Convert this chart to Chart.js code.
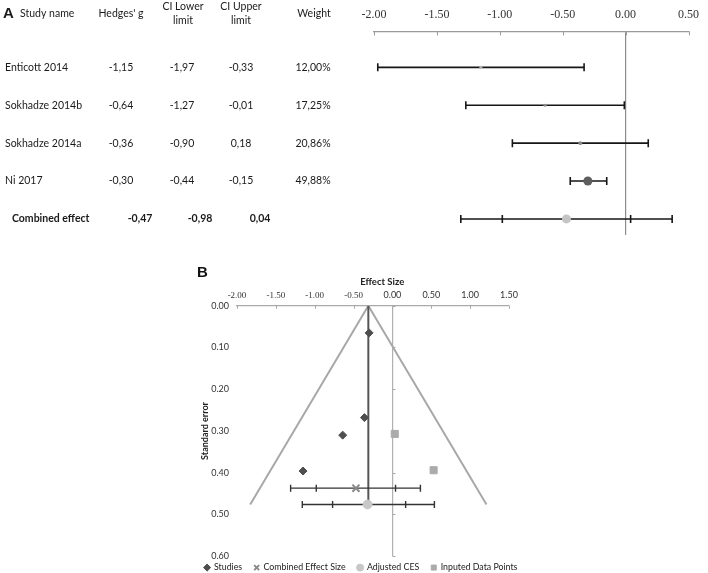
<!DOCTYPE html>
<html>
<head>
<meta charset="utf-8">
<title>Forest and funnel plot</title>
<script src="https://cdn.jsdelivr.net/npm/chart.js@4.4.1/dist/chart.umd.min.js"></script>
<style>
  body { margin: 0; background: #fff; }
  .wrap { position: relative; width: 708px; height: 573px; overflow: hidden; }
  canvas { position: absolute; left: 0; }
  #forestChart { top: 0; }
  #funnelChart { top: 240px; }
</style>
</head>
<body>
<div class="wrap">
  <canvas id="forestChart" width="708" height="240"></canvas>
  <canvas id="funnelChart" width="708" height="347"></canvas>
</div>
<script>
// =========================
// PANEL A - FOREST PLOT DATA
// =========================
const studyNames = ["Enticott 2014", "Sokhadze 2014b", "Sokhadze 2014a", "Ni 2017"];
const hedgesG = [-1.15, -0.64, -0.36, -0.30];
const ciLower = [-1.97, -1.27, -0.90, -0.44];
const ciUpper = [-0.33, -0.01, 0.18, -0.15];
const weights = [12.00, 17.25, 20.86, 49.88];
const combinedEffect = [-0.47, -0.98, 0.04];       // g, lower, upper
const combinedCaps = [-1.31, -0.98, 0.04, 0.37];   // interval ends drawn on the plot
const forestTicks = [-2, -1.5, -1, -0.5, 0, 0.5];

// =========================
// PANEL B - FUNNEL PLOT DATA
// =========================
const studySE = [0.396, 0.310, 0.268, 0.065];
const imputedG = [0.03, 0.53];
const imputedSE = [0.307, 0.394];
const combinedSE = [0.437];
const combinedBars = [-1.31, -0.98, 0.04, 0.36];
const adjustedG = [-0.32];
const adjustedSE = [0.476];
const adjustedBars = [-1.16, -0.77, 0.17, 0.54];
const funnelG = [-1.83, -0.31, 1.21];
const funnelSE = [0.476, 0, 0.476];
const funnelTicksX = [-2, -1.5, -1, -0.5, 0, 0.5, 1, 1.5];
const funnelTicksY = [0, 0.1, 0.2, 0.3, 0.4, 0.5, 0.6];
const legendNames = ["Studies", "Combined Effect Size", "Adjusted CES", "Inputed Data Points"];

const fmt = v => v.toFixed(2).replace('.', ',');

// small tick marks that point into the plot
const tickMarks = {
  id: 'tickMarks',
  beforeDatasetsDraw(chart, args, opts) {
    const { ctx, chartArea, scales } = chart;
    ctx.save();
    ctx.strokeStyle = opts.color;
    ctx.lineWidth = 1;
    scales.x.ticks.forEach(t => {
      const px = Math.round(scales.x.getPixelForValue(t.value)) + 0.5;
      ctx.beginPath();
      ctx.moveTo(px, chartArea.top);
      ctx.lineTo(px, chartArea.top + opts.len);
      ctx.stroke();
    });
    if (opts.onZero) {
      const x0 = Math.round(scales.x.getPixelForValue(0)) + 0.5;
      scales.y.ticks.forEach(t => {
        const py = Math.round(scales.y.getPixelForValue(t.value)) + 0.5;
        ctx.beginPath();
        ctx.moveTo(x0, py);
        ctx.lineTo(x0 + opts.len, py);
        ctx.stroke();
      });
    }
    ctx.restore();
  }
};

// table on the left of the forest plot
const forestTable = {
  id: 'forestTable',
  afterDraw(chart) {
    const { ctx, scales: { y } } = chart;
    ctx.save();
    ctx.fillStyle = '#1a1a1a';
    ctx.textBaseline = 'middle';

    ctx.font = 'bold 15px "Liberation Sans"';
    ctx.textAlign = 'left';
    ctx.fillText('A', 3, 14);

    ctx.font = '10.5px Lato';
    ctx.fillText('Study name', 20, 14);
    ctx.textAlign = 'center';
    ctx.fillText("Hedges' g", 121, 14);
    ctx.fillText('CI Lower', 183, 7);
    ctx.fillText('limit', 183, 21);
    ctx.fillText('CI Upper', 241, 7);
    ctx.fillText('limit', 241, 21);
    ctx.fillText('Weight', 314, 14);

    studyNames.forEach((name, i) => {
      const py = y.getPixelForValue(i + 1);
      ctx.textAlign = 'left';
      ctx.fillText(name, 5, py);
      ctx.textAlign = 'center';
      ctx.fillText(fmt(hedgesG[i]), 121, py);
      ctx.fillText(fmt(ciLower[i]), 182, py);
      ctx.fillText(fmt(ciUpper[i]), 241, py);
      ctx.fillText(fmt(weights[i]) + '%', 313, py);
    });

    const pc = y.getPixelForValue(studyNames.length + 1);
    ctx.font = 'bold 10.5px Lato';
    ctx.textAlign = 'left';
    ctx.fillText('Combined effect', 12, pc);
    ctx.textAlign = 'center';
    ctx.fillText(fmt(combinedEffect[0]), 140, pc);
    ctx.fillText(fmt(combinedEffect[1]), 200, pc);
    ctx.fillText(fmt(combinedEffect[2]), 260, pc);
    ctx.restore();
  }
};

const capStyle = (color, width, r) => ({
  showLine: true,
  borderColor: color,
  borderWidth: width,
  pointStyle: 'line',
  pointRotation: 90,
  pointRadius: r,
  pointBorderColor: color,
  pointBorderWidth: width,
  order: 2
});

// =========================
// FOREST PLOT
// =========================
const combinedRow = studyNames.length + 1;

new Chart(document.getElementById('forestChart'), {
  type: 'scatter',
  data: {
    datasets: [
      {
        data: [...hedgesG.map((g, i) => ({ x: g, y: i + 1 })), { x: combinedEffect[0], y: combinedRow }],
        pointRadius: [...weights.map(w => Math.max(1.5, w / 11)), 4.5],
        pointBackgroundColor: ['#b0b0b0', '#8a8a8a', '#8a8a8a', '#5e5e5e', '#c4c4c4'],
        pointBorderWidth: 0,
        order: 0
      },
      ...studyNames.map((n, i) => ({
        data: [{ x: ciLower[i], y: i + 1 }, { x: ciUpper[i], y: i + 1 }],
        ...capStyle('#161616', 1.6, 4)
      })),
      {
        data: combinedCaps.map(v => ({ x: v, y: combinedRow })),
        ...capStyle('#161616', 1.6, 4)
      }
    ]
  },
  options: {
    responsive: false,
    animation: false,
    events: [],
    layout: { autoPadding: false, padding: { left: 374, right: 17, top: -1, bottom: 5 } },
    plugins: {
      legend: { display: false },
      tooltip: { enabled: false },
      tickMarks: { color: '#9a9a9a', len: 4 }
    },
    scales: {
      x: {
        position: 'top',
        min: -2,
        max: 0.5,
        afterBuildTicks: s => { s.ticks = forestTicks.map(v => ({ value: v })); },
        ticks: {
          padding: 9,
          color: '#333',
          font: { family: 'Liberation Serif', size: 12 },
          callback: v => v.toFixed(2)
        },
        grid: {
          drawTicks: false,
          lineWidth: 1.2,
          color: c => (c.tick && c.tick.value === 0 ? '#8c8c8c' : 'transparent')
        },
        border: { color: '#9a9a9a', width: 1.2 }
      },
      y: { display: false, reverse: true, min: 0.051, max: 5.424 }
    }
  },
  plugins: [tickMarks, forestTable]
});

// =========================
// FUNNEL PLOT
// =========================
const panelB = {
  id: 'panelB',
  afterDraw(chart) {
    const ctx = chart.ctx;
    ctx.save();
    ctx.fillStyle = '#111';
    ctx.font = 'bold 15px "Liberation Sans"';
    ctx.textBaseline = 'middle';
    ctx.fillText('B', 197, 33);
    ctx.restore();
  }
};

// legend sits tight under the plot, centred near x = 360
const legendShift = {
  id: 'legendShift',
  afterLayout(chart) {
    const lg = chart.legend;
    const h = lg.height;
    lg.top = chart.chartArea.bottom - 5;
    lg.bottom = lg.top + h;
    lg.left -= 28;
    lg.right -= 28;
  }
};

new Chart(document.getElementById('funnelChart'), {
  type: 'scatter',
  data: {
    datasets: [
      {
        label: legendNames[0],
        data: hedgesG.map((g, i) => ({ x: g, y: studySE[i] })),
        pointStyle: 'rectRot',
        pointRadius: 4,
        backgroundColor: '#4e4e4e',
        borderColor: '#4e4e4e',
        borderWidth: 1,
        order: 0
      },
      {
        label: legendNames[1],
        data: [{ x: combinedEffect[0], y: combinedSE[0] }],
        pointStyle: 'crossRot',
        pointRadius: 5,
        backgroundColor: '#8a8a8a',
        borderColor: '#8a8a8a',
        borderWidth: 2,
        order: 0
      },
      {
        label: legendNames[2],
        data: [{ x: adjustedG[0], y: adjustedSE[0] }],
        pointStyle: 'circle',
        pointRadius: 4.5,
        backgroundColor: '#c8c8c8',
        borderColor: '#c8c8c8',
        borderWidth: 1,
        order: 0
      },
      {
        label: legendNames[3],
        data: imputedG.map((g, i) => ({ x: g, y: imputedSE[i] })),
        pointStyle: 'rect',
        pointRadius: 5,
        backgroundColor: '#ababab',
        borderColor: '#ababab',
        borderWidth: 1,
        order: 0
      },
      {
        data: combinedBars.map(v => ({ x: v, y: combinedSE[0] })),
        ...capStyle('#333', 1.4, 3.5)
      },
      {
        data: adjustedBars.map(v => ({ x: v, y: adjustedSE[0] })),
        ...capStyle('#333', 1.4, 3.5)
      },
      {
        data: funnelG.map((g, i) => ({ x: g, y: funnelSE[i] })),
        showLine: true,
        borderColor: '#a8a8a8',
        borderWidth: 2,
        pointRadius: 0,
        order: 3
      },
      {
        data: [{ x: funnelG[1], y: 0 }, { x: funnelG[1], y: adjustedSE[0] }],
        showLine: true,
        borderColor: '#555',
        borderWidth: 2,
        pointRadius: 0,
        order: 2
      }
    ]
  },
  options: {
    responsive: false,
    animation: false,
    events: [],
    layout: { autoPadding: false, padding: { left: 199, right: 129, top: 37.25, bottom: 0 } },
    plugins: {
      tooltip: { enabled: false },
      tickMarks: { color: '#aaaaaa', len: 3, onZero: true },
      legend: {
        position: 'bottom',
        labels: {
          filter: item => item.datasetIndex < legendNames.length,
          usePointStyle: true,
          boxWidth: 5,
          boxHeight: 5,
          padding: 12,
          color: '#222',
          font: { family: 'Lato', size: 8.8 }
        }
      }
    },
    scales: {
      x: {
        position: 'top',
        min: -2,
        max: 1.5,
        afterBuildTicks: s => { s.ticks = funnelTicksX.map(v => ({ value: v })); },
        ticks: {
          padding: 6,
          color: '#333',
          font: c => ({ family: c.tick && c.tick.value < 0 ? 'Liberation Serif' : 'Lato', size: 9, lineHeight: 1 }),
          callback: v => v.toFixed(2)
        },
        title: {
          display: true,
          text: '        Effect Size',
          color: '#222',
          font: { family: 'Lato', size: 9.5, weight: 'bold', lineHeight: 1 },
          padding: { top: 0, bottom: -2 }
        },
        grid: {
          drawTicks: false,
          lineWidth: 1.2,
          color: c => (c.tick && c.tick.value === 0 ? '#b0b0b0' : 'transparent')
        },
        border: { color: '#aaaaaa', width: 1.2 }
      },
      y: {
        reverse: true,
        min: 0,
        max: 0.6,
        afterBuildTicks: s => { s.ticks = funnelTicksY.map(v => ({ value: v })); },
        afterFit: s => { s.width = 38; },
        ticks: {
          padding: 8,
          color: '#333',
          font: { family: 'Lato', size: 9 },
          callback: v => v.toFixed(2)
        },
        title: {
          display: true,
          text: 'Standard error',
          color: '#222',
          font: { family: 'Lato', size: 9, weight: 'bold' },
          padding: { top: 1, bottom: 2 }
        },
        grid: { display: false, drawTicks: false },
        border: { display: false }
      },
      // empty right-hand spacer so the legend row has room on one line
      spacer: {
        type: 'linear',
        position: 'right',
        display: true,
        afterFit: s => { s.width = 70; },
        ticks: { display: false },
        grid: { display: false, drawTicks: false },
        border: { display: false }
      }
    }
  },
  plugins: [tickMarks, panelB, legendShift]
});
</script>
</body>
</html>
